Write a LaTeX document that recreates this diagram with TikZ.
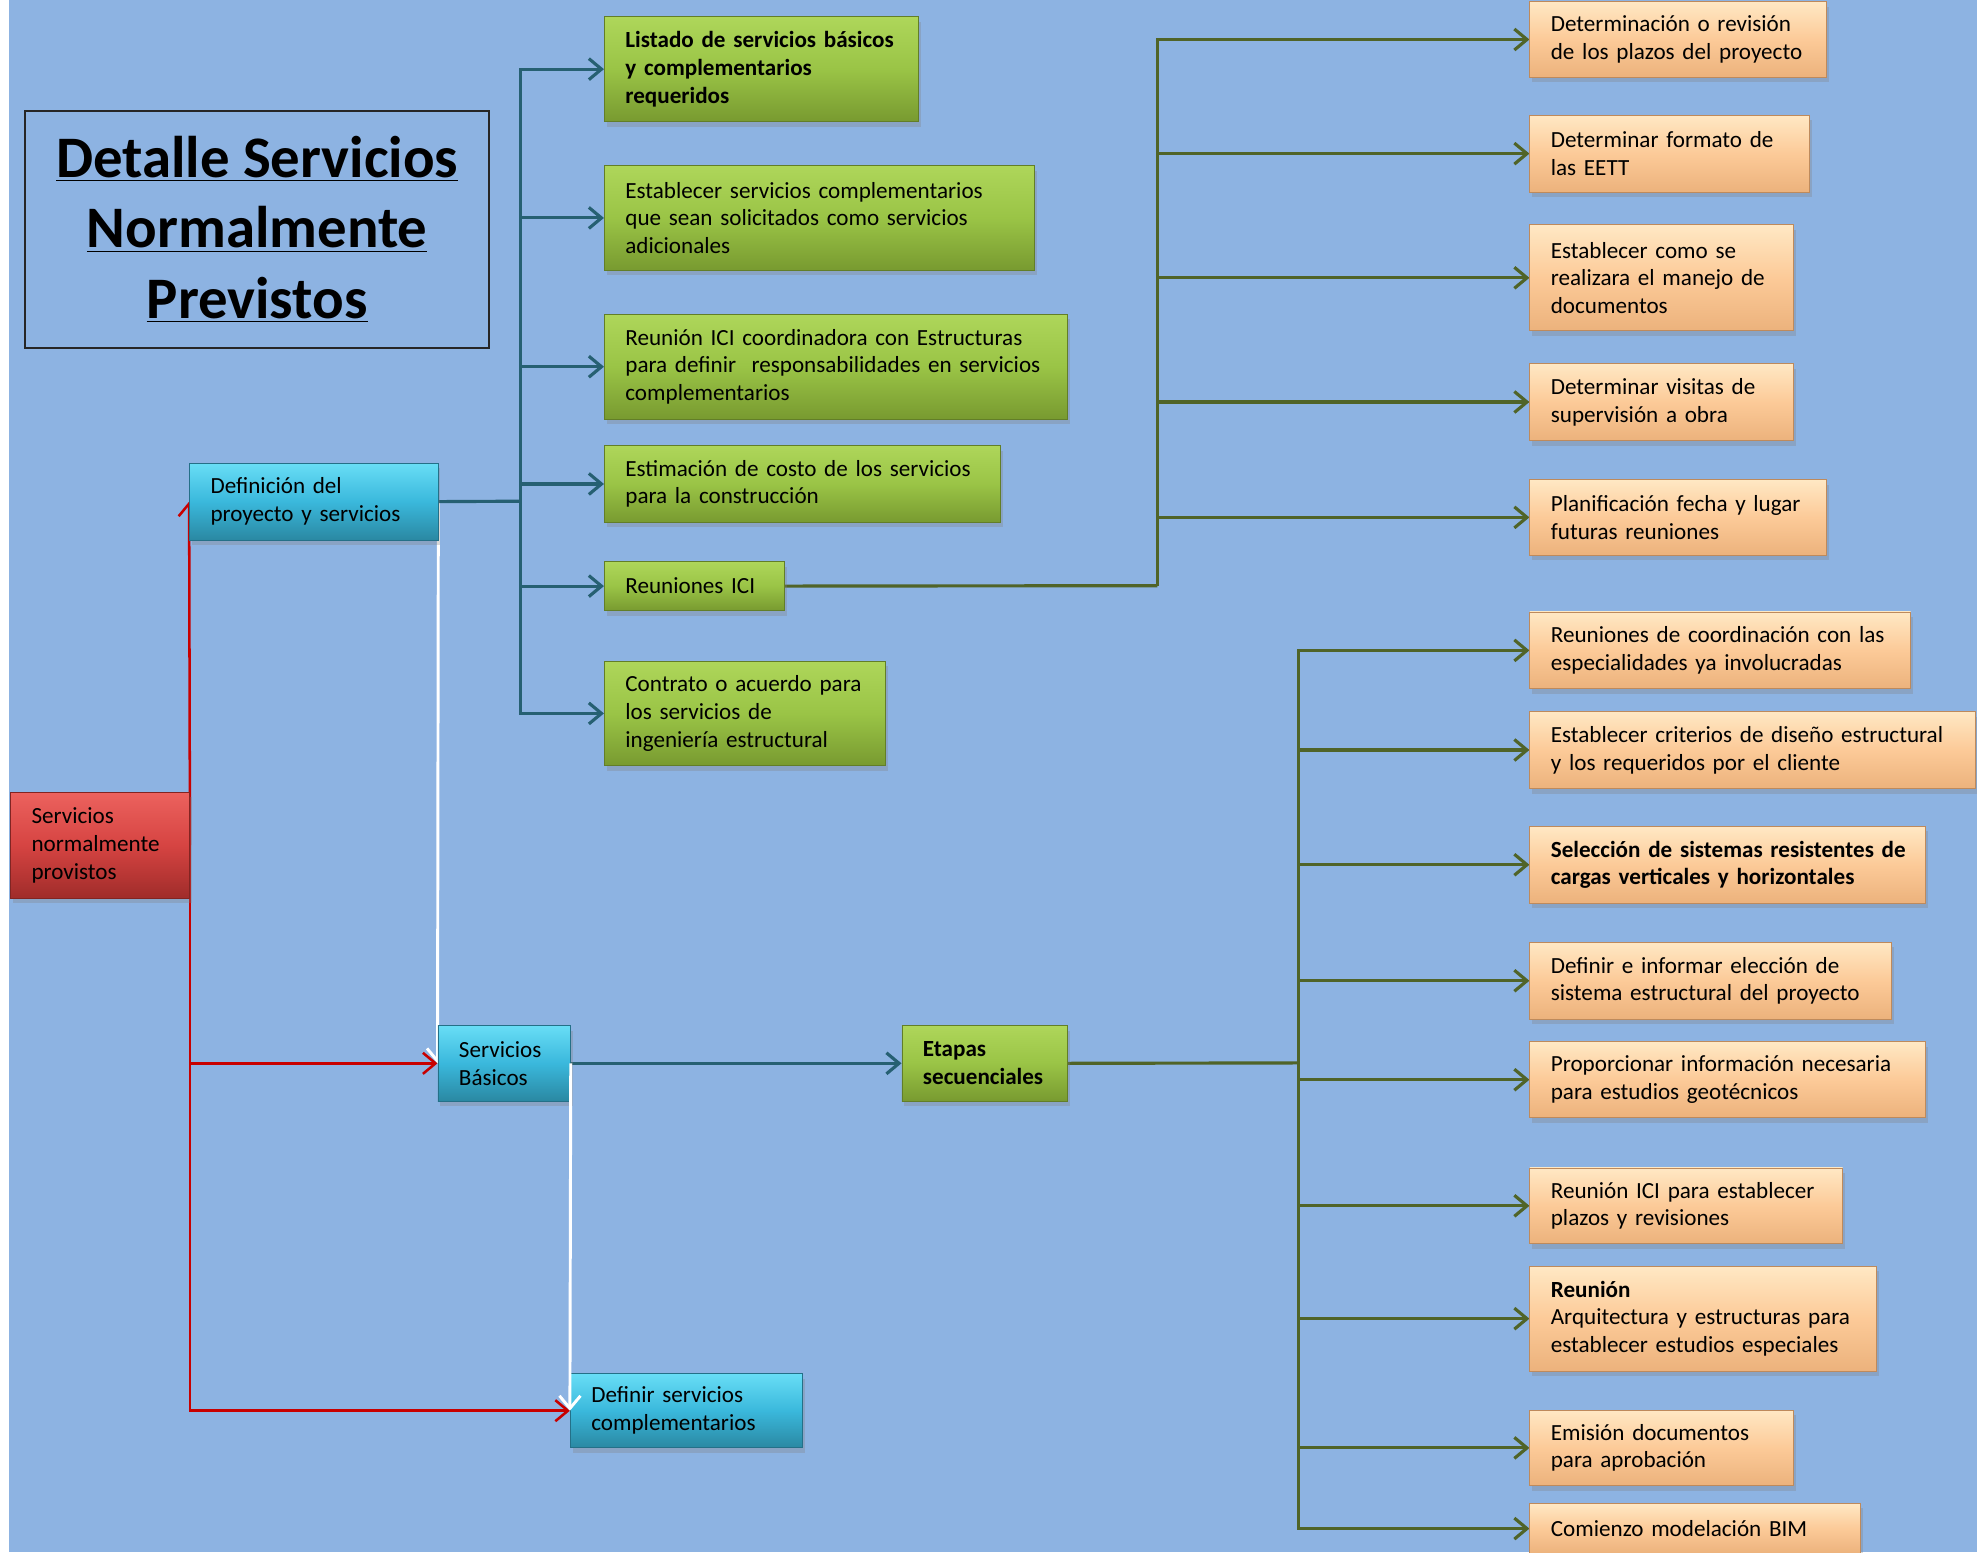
\documentclass[tikz,border=0pt]{standalone}
\usepackage{fontspec}
\setmainfont{Carlito}
\usetikzlibrary{arrows.meta, shadows, backgrounds}

\definecolor{bgblue}{RGB}{141,179,226}
\definecolor{tealln}{RGB}{38,96,114}
\definecolor{oliveln}{RGB}{80,100,40}
\definecolor{redln}{RGB}{200,0,0}
\definecolor{grnA}{RGB}{174,214,90}
\definecolor{grnB}{RGB}{154,196,70}
\definecolor{grnC}{RGB}{120,154,48}
\definecolor{grnD}{RGB}{98,126,40}
\definecolor{cynA}{RGB}{104,222,246}
\definecolor{cynB}{RGB}{58,184,220}
\definecolor{cynC}{RGB}{42,136,162}
\definecolor{cynD}{RGB}{36,112,136}
\definecolor{redA}{RGB}{236,98,94}
\definecolor{redB}{RGB}{214,68,66}
\definecolor{redC}{RGB}{160,44,42}
\definecolor{redD}{RGB}{130,36,34}
\definecolor{orgA}{RGB}{255,232,196}
\definecolor{orgB}{RGB}{252,202,152}
\definecolor{orgC}{RGB}{236,178,124}
\definecolor{orgD}{RGB}{190,138,92}

\begin{document}
\begin{tikzpicture}
    [x=0.6pt, y=-0.6pt,
    bsty/.style={rectangle, anchor=north west, align=left, inner xsep=10pt, inner ysep=1pt,
        font=\fontsize{11}{13.2}\selectfont,
        drop shadow={opacity=0.3, shadow xshift=1.2pt, shadow yshift=-2.4pt}},
    sz/.style 2 args={minimum width=#1*0.6pt, minimum height=#2*0.6pt, text width=#1*0.6pt-20pt},
    gsty/.style={bsty, draw=grnD, top color=grnA, bottom color=grnC, middle color=grnB},
    csty/.style={bsty, draw=cynD, top color=cynA, bottom color=cynC, middle color=cynB},
    rsty/.style={bsty, draw=redD, top color=redA, bottom color=redC, middle color=redB},
    osty/.style={bsty, draw=orgD, top color=orgA, bottom color=orgC, middle color=orgB},
    titsty/.style={rectangle, draw=black!85, line width=1.2pt, align=center,
        minimum width=368*0.6pt, minimum height=188*0.6pt,
        font=\fontsize{28}{33.6}\selectfont\bfseries},
    tsty/.style={draw=tealln, line width=1.5pt, -{Straight Barb[length=6pt, width=10pt]}},
    vsty/.style={draw=oliveln, line width=1.5pt, -{Straight Barb[length=6pt, width=10pt]}},
    rasty/.style={draw=redln, line width=1.2pt, -{Straight Barb[length=6pt, width=10pt]}},
    wsty/.style={draw=white, line width=1.4pt, -{Straight Barb[length=6pt, width=10pt]}}]
    \useasboundingbox (0,0) rectangle (1568,1231);
    \begin{scope}[on background layer]
        \fill[bgblue] (0,0) rectangle (1568,1231);
        \fill[white] (0,0) rectangle (7,1231);
    \end{scope}
    % title
    \node[titsty] (title) at (204,182) {\underline{Detalle Servicios}\\\underline{Normalmente}\\\underline{Previstos}};
    % nodes
    \node[rsty, sz={142}{84}]  (root)   at (8,628)    {Servicios\\normalmente\\provistos};
    \node[csty, sz={197}{61}]  (def)    at (150,367)  {Definición del\\proyecto y servicios};
    \node[csty, sz={105}{60}]  (sb)     at (347,813)  {Servicios\\Básicos};
    \node[csty, sz={184}{59}]  (dsc)    at (452,1089) {Definir servicios\\complementarios};
    \node[gsty, sz={249}{83}, font=\fontsize{11}{13.2}\selectfont\bfseries] (g1) at (479,13) {Listado de servicios básicos\\y complementarios\\requeridos};
    \node[gsty, sz={341}{83}]  (g2)     at (479,131)  {Establecer servicios complementarios\\que sean solicitados como servicios\\adicionales};
    \node[gsty, sz={367}{83}]  (g3)     at (479,249)  {Reunión ICI coordinadora con Estructuras\\para definir\ \ responsabilidades en servicios\\complementarios};
    \node[gsty, sz={314}{61}]  (g4)     at (479,353)  {Estimación de costo de los servicios\\para la construcción};
    \node[gsty, sz={143}{39}]  (g5)     at (479,445)  {Reuniones ICI};
    \node[gsty, sz={223}{83}]  (g6)     at (479,524)  {Contrato o acuerdo para\\los servicios de\\ingeniería estructural};
    \node[gsty, sz={131}{60}, font=\fontsize{11}{13.2}\selectfont\bfseries] (etapas) at (715,813) {Etapas\\secuenciales};
    \node[osty, sz={235}{60}]  (oa)     at (1213,1)   {Determinación o revisión\\de los plazos del proyecto};
    \node[osty, sz={222}{61}]  (ob)     at (1213,91)  {Determinar formato de\\las EETT};
    \node[osty, sz={209}{84}]  (oc)     at (1213,178) {Establecer como se\\realizara el manejo de\\documentos};
    \node[osty, sz={209}{61}]  (od)     at (1213,288) {Determinar visitas de\\supervisión a obra};
    \node[osty, sz={235}{60}]  (oe)     at (1213,380) {Planificación fecha y lugar\\futuras reuniones};
    \node[osty, sz={302}{61}]  (of)     at (1213,485) {Reuniones de coordinación con las\\especialidades ya involucradas};
    \node[osty, sz={353}{61}]  (og)     at (1213,564) {Establecer criterios de diseño estructural\\y los requeridos por el cliente};
    \node[osty, sz={314}{61}, font=\fontsize{11}{13.2}\selectfont\bfseries] (oh) at (1213,655) {\mbox{Selección de sistemas resistentes de}\\cargas verticales y horizontales};
    \node[osty, sz={287}{61}]  (oi)     at (1213,747) {Definir e informar elección de\\sistema estructural del proyecto};
    \node[osty, sz={314}{60}]  (oj)     at (1213,826) {Proporcionar información necesaria\\para estudios geotécnicos};
    \node[osty, sz={248}{60}]  (ok)     at (1213,926) {Reunión ICI para establecer\\plazos y revisiones};
    \node[osty, sz={275}{83}]  (ol)     at (1213,1004) {\textbf{Reunión}\\Arquitectura y estructuras para\\establecer estudios especiales};
    \node[osty, sz={209}{60}]  (om)     at (1213,1118) {Emisión documentos\\para aprobación};
    \node[osty, sz={262}{40}]  (on)     at (1213,1192) {Comienzo modelación BIM};
    % vertices
    \coordinate (ta) at (413,397.5);
    \coordinate (tb) at (918,464.5);
    \coordinate (tc) at (1030,843);
    \begin{scope}[on background layer]
        \draw[rasty] (root.east) -- (def.west);
        \draw[rasty] (root.east) |- (sb.west);
        \draw[rasty] (root.east) |- (dsc.west);
        \draw[wsty] (def.east) -- (sb.west);
        \draw[tsty, -] (def.east) -- (ta);
        \draw[tsty] (ta) |- (g1.west);
        \draw[tsty] (ta) |- (g2.west);
        \draw[tsty] (ta) |- (g3.west);
        \draw[tsty] (ta) |- (g4.west);
        \draw[tsty] (ta) |- (g5.west);
        \draw[tsty] (ta) |- (g6.west);
        \draw[tsty] (sb.east) -- (etapas.west);
        \draw[vsty, -] (g5.east) -- (tb);
        \draw[vsty] (tb) |- (oa.west);
        \draw[vsty] (tb) |- (ob.west);
        \draw[vsty] (tb) |- (oc.west);
        \draw[vsty] (tb) |- (od.west);
        \draw[vsty] (tb) |- (oe.west);
        \draw[vsty, -] (etapas.east) -- (tc);
        \draw[vsty] (tc) |- (of.west);
        \draw[vsty] (tc) |- (og.west);
        \draw[vsty] (tc) |- (oh.west);
        \draw[vsty] (tc) |- (oi.west);
        \draw[vsty] (tc) |- (oj.west);
        \draw[vsty] (tc) |- (ok.west);
        \draw[vsty] (tc) |- (ol.west);
        \draw[vsty] (tc) |- (om.west);
        \draw[vsty] (tc) |- (on.west);
    \end{scope}
    \draw[wsty] (sb.east) -- (dsc.west);
\end{tikzpicture}
\end{document}
